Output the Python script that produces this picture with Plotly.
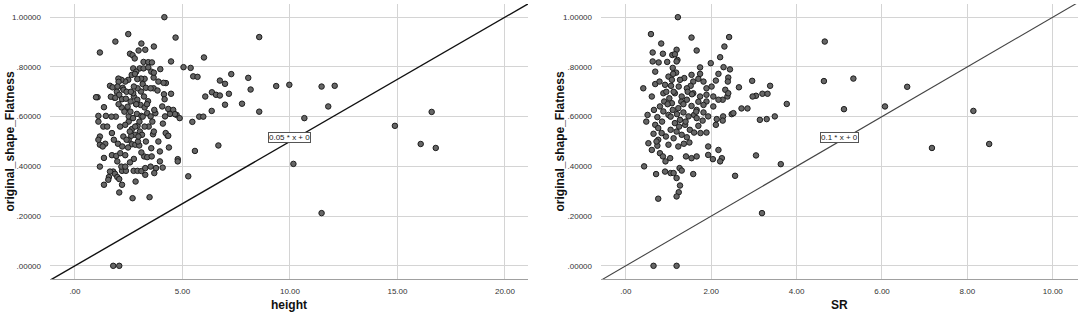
import plotly.graph_objects as go

# ---------------- data ----------------
height_x = [4.16,2.48,1.88,1.16,4.68,8.57,3.09,2.56,2.68,2.78,2.96,3.27,3.67,4.47,6.0,5.05,5.38,5.5,5.7,7.27,
            6.74,6.98,8.06,8.17,9.36,9.97,11.47,12.08,11.78,10.67,8.57,7.77,7.16,6.37,6.56,6.74,6.98,6.06,6.36,5.78,
            5.97,5.46,5.58,6.67,5.27,10.16,11.47,4.78,4.78,1.78,2.06,14.88,16.08,16.59,16.78,
            3.19,3.41,3.58,3.01,3.19,3.41,2.71,2.85,3.55,3.97,2.64,2.79,2.48,2.34,2.16,2.02,1.63,1.75,2.03,1.98,
            1.95,1.84,1.67,1.05,1.35,1.44,1.09,1.09,1.32,1.16,1.16,1.41,1.16,1.35,1.72,1.81,2.0,1.72,1.92,2.11,
            1.97,1.78,1.86,1.97,2.19,2.37,2.19,2.06,2.68,3.47,3.27,3.22,2.74,3.36,3.57,3.88,3.95,4.08,4.31,4.37,
            4.09,4.19,4.34,4.06,4.14,4.23,4.12,3.88,3.66,3.67,3.66,3.84,4.17,4.47,4.57,4.73,4.87,4.65,4.42,4.22,
            4.34,3.95,3.55,3.63,3.67,3.43,3.24,3.02,2.91,2.65,2.50,2.34,2.50,2.33,2.17,2.03,1.88,2.06,2.19,2.37,
            2.59,2.74,2.90,3.05,3.24,3.36,3.52,3.74,3.69,3.40,3.21,3.07,2.91,2.74,3.15,3.30,3.52,3.24,3.07,2.90,
            2.71,2.22,2.26,2.50,2.65,2.81,2.99,2.47,2.34,2.16,2.34,2.56,2.73,2.91,3.09,3.27,3.52,3.77,3.69,2.82,
            3.09,2.93,2.78,3.12,2.70,2.88,3.09,2.25,2.40,1.63,1.58,1.35,1.55,2.06,2.62,1.29,1.09,0.98,
            2.45,2.58,2.85,3.00,3.15,2.40,2.55,2.95,3.35,3.60,1.90,2.10,2.30,2.60,2.80,3.30,1.50,1.70,2.20,2.85]
height_y = [1.0,0.932,0.902,0.858,0.918,0.92,0.894,0.853,0.847,0.834,0.866,0.869,0.882,0.822,0.838,0.799,0.796,0.762,0.76,0.771,
            0.745,0.732,0.756,0.709,0.723,0.728,0.721,0.724,0.641,0.594,0.62,0.652,0.692,0.698,0.688,0.685,0.648,0.681,0.623,0.6,
            0.6,0.579,0.462,0.484,0.36,0.41,0.212,0.429,0.42,0.0,0.0,0.563,0.49,0.619,0.474,
            0.820,0.819,0.818,0.794,0.794,0.798,0.794,0.781,0.781,0.791,0.768,0.772,0.748,0.741,0.748,0.753,0.724,0.718,0.740,0.721,
            0.700,0.676,0.680,0.678,0.638,0.603,0.603,0.580,0.560,0.520,0.487,0.491,0.399,0.434,0.534,0.507,0.491,0.445,0.442,0.453,
            0.420,0.379,0.370,0.357,0.382,0.382,0.326,0.295,0.272,0.276,0.366,0.440,0.430,0.437,0.440,0.500,0.420,0.395,0.523,0.476,
            0.572,0.601,0.631,0.641,0.690,0.735,0.736,0.741,0.757,0.777,0.714,0.705,0.670,0.692,0.627,0.607,0.594,0.610,0.611,0.534,
            0.523,0.460,0.473,0.529,0.540,0.560,0.560,0.540,0.563,0.550,0.580,0.567,0.601,0.627,0.637,0.650,0.676,0.688,0.670,0.672,
            0.661,0.681,0.668,0.647,0.637,0.614,0.601,0.614,0.627,0.662,0.681,0.701,0.714,0.721,0.731,0.716,0.714,0.752,0.753,0.751,
            0.694,0.716,0.708,0.507,0.489,0.487,0.484,0.476,0.445,0.399,0.399,0.416,0.382,0.382,0.381,0.393,0.399,0.393,0.373,0.339,
            0.456,0.500,0.527,0.527,0.594,0.611,0.603,0.520,0.507,0.379,0.357,0.326,0.346,0.349,0.523,0.480,0.507,0.678,
            0.640,0.620,0.650,0.580,0.600,0.700,0.540,0.520,0.650,0.580,0.600,0.560,0.620,0.700,0.560,0.500,0.560,0.600,0.480,0.650]

sr_x = [1.22,0.59,1.54,2.42,0.83,2.31,1.19,1.66,0.63,0.87,1.09,1.15,2.21,1.21,0.63,0.77,0.97,1.19,1.99,1.74,
        2.29,2.44,1.10,0.69,1.18,1.37,2.40,2.11,1.82,1.70,1.58,2.96,2.39,1.74,2.17,0.41,2.65,3.38,3.20,3.32,
        3.05,2.97,0.61,0.69,0.79,0.92,1.06,1.00,1.11,1.24,1.52,1.89,2.01,2.33,2.38,2.27,2.71,2.85,2.48,2.28,
        2.13,1.93,1.82,1.66,1.54,1.43,1.31,1.15,1.02,0.90,0.80,0.66,0.51,0.48,0.53,0.61,0.74,0.80,0.87,0.93,
        1.04,1.00,1.12,1.23,1.36,1.49,1.41,1.54,1.66,1.75,1.89,1.93,1.93,2.04,2.17,2.25,2.21,2.11,2.27,2.52,
        0.69,0.76,0.84,0.94,1.05,1.15,1.27,1.39,1.50,1.60,1.70,1.80,1.60,1.47,1.35,1.23,1.10,1.00,0.88,0.74,
        0.65,0.76,1.19,1.31,1.43,0.43,0.71,0.76,0.92,1.05,1.12,1.26,1.31,1.19,1.27,1.24,1.19,1.58,2.56,3.14,
        3.30,3.05,3.19,3.63,3.77,3.49,0.65,1.19,0.88,1.08,1.58,1.74,1.89,2.05,1.89,1.43,1.27,1.08,1.54,2.40,
        2.17,2.05,1.66,1.82,4.66,4.64,5.33,5.11,6.07,6.59,7.17,8.14,8.51,
        0.95,1.30,1.45,1.05,1.20,1.35,0.85,1.40,1.65,1.25,0.98,1.12,1.70,0.72,1.55]
sr_y = [1.0,0.932,0.918,0.920,0.894,0.882,0.869,0.866,0.858,0.853,0.848,0.851,0.839,0.828,0.822,0.818,0.820,0.822,0.815,0.798,
        0.799,0.790,0.796,0.781,0.777,0.755,0.757,0.745,0.741,0.752,0.741,0.744,0.741,0.772,0.772,0.714,0.718,0.724,0.692,0.692,
        0.684,0.681,0.681,0.731,0.741,0.728,0.724,0.761,0.772,0.721,0.724,0.714,0.721,0.708,0.681,0.668,0.633,0.633,0.610,0.601,
        0.590,0.601,0.617,0.627,0.643,0.668,0.681,0.694,0.674,0.661,0.641,0.627,0.607,0.580,0.493,0.466,0.483,0.453,0.440,0.420,
        0.433,0.487,0.513,0.480,0.491,0.496,0.440,0.433,0.440,0.534,0.536,0.480,0.446,0.429,0.466,0.433,0.420,0.567,0.584,0.614,
        0.567,0.554,0.534,0.520,0.547,0.574,0.587,0.567,0.547,0.536,0.563,0.584,0.607,0.601,0.617,0.634,0.627,0.607,0.621,0.598,
        0.531,0.507,0.540,0.527,0.517,0.400,0.369,0.270,0.379,0.373,0.373,0.393,0.383,0.353,0.323,0.296,0.279,0.369,0.362,0.587,
        0.590,0.444,0.212,0.409,0.651,0.601,0.0,0.0,0.694,0.654,0.694,0.681,0.661,0.641,0.688,0.714,0.748,0.748,0.768,0.694,
        0.668,0.681,0.594,0.647,0.902,0.743,0.753,0.630,0.641,0.720,0.474,0.623,0.490,
        0.700,0.660,0.700,0.600,0.610,0.650,0.580,0.580,0.620,0.560,0.650,0.700,0.660,0.500,0.690]

y_ticks = [0.0, 0.2, 0.4, 0.6, 0.8, 1.0]
y_tick_labels = [".00000", ".20000", ".40000", ".60000", ".80000", "1.00000"]
height_ticks = [0, 5, 10, 15, 20]
height_tick_labels = [".00", "5.00", "10.00", "15.00", "20.00"]
sr_ticks = [0, 2, 4, 6, 8, 10]
sr_tick_labels = [".00", "2.00", "4.00", "6.00", "8.00", "10.00"]
slopes = [0.05, 0.1]
fit_labels = ["0.05 * x + 0", "0.1 * x + 0"]
x_titles = ["height", "SR"]
y_title = "original_shape_Flatness"

# ---------------- layout ----------------
W, H = 1084, 317
xr_left = [-1.16, 21.07]
xr_right = [-0.58, 10.59]
yr = [-0.053, 1.053]
dom_l = [50 / W, 528 / W]
dom_r = [601 / W, 1078 / W]
dom_y = [(H - 279) / H, (H - 4) / H]

fig = go.Figure()

marker = dict(size=5.5, color="#666666", line=dict(color="#1e1e1e", width=1))

fig.add_trace(go.Scatter(x=height_x, y=height_y, mode="markers", marker=marker,
                         xaxis="x", yaxis="y", showlegend=False))
fig.add_trace(go.Scatter(x=sr_x, y=sr_y, mode="markers", marker=marker,
                         xaxis="x2", yaxis="y2", showlegend=False))

for i, (xr, xa, ya, col, w) in enumerate([(xr_left, "x", "y", "#111111", 1.4),
                                          (xr_right, "x2", "y2", "#444444", 1.1)]):
    lx = [xr[0], xr[1]]
    ly = [slopes[i] * v for v in lx]
    fig.add_trace(go.Scatter(x=lx, y=ly, mode="lines", line=dict(color=col, width=w),
                             xaxis=xa, yaxis=ya, showlegend=False, cliponaxis=True))

grid = "#d4d4d4"
tickfont = dict(family="Arial, Liberation Sans", size=8, color="#333333")

common_x = dict(showgrid=True, gridcolor=grid, gridwidth=1, zeroline=False, showline=True,
                linecolor="#a0a0a0", linewidth=1, ticks="", tickfont=tickfont, fixedrange=True)
common_y = dict(showgrid=True, gridcolor=grid, gridwidth=1, zeroline=False, showline=False,
                ticks="", tickfont=tickfont, range=yr, tickvals=y_ticks, ticktext=y_tick_labels,
                ticklabelstandoff=8, fixedrange=True)

fig.update_layout(
    width=W, height=H,
    margin=dict(l=0, r=0, t=0, b=0),
    paper_bgcolor="white", plot_bgcolor="white",
    xaxis=dict(domain=dom_l, range=xr_left, tickvals=height_ticks, ticktext=height_tick_labels,
               anchor="y", ticklabelstandoff=4, **common_x),
    yaxis=dict(domain=dom_y, anchor="x", **common_y),
    xaxis2=dict(domain=dom_r, range=xr_right, tickvals=sr_ticks, ticktext=sr_tick_labels,
                anchor="y2", ticklabelstandoff=4, **common_x),
    yaxis2=dict(domain=dom_y, anchor="x2", **common_y),
)

title_font = dict(family="Arial, Liberation Sans", size=12, color="#111111")
annotations = []
# axis titles
for dom, t in [(dom_l, x_titles[0]), (dom_r, x_titles[1])]:
    annotations.append(dict(text="<b>%s</b>" % t, x=sum(dom) / 2, y=(H - 305) / H,
                            xref="paper", yref="paper", xanchor="center", yanchor="middle",
                            showarrow=False, font=title_font))
for xp in [9 / W, 559 / W]:
    annotations.append(dict(text="<b>%s</b>" % y_title, x=xp, y=sum(dom_y) / 2, textangle=-90,
                            xref="paper", yref="paper", xanchor="center", yanchor="middle",
                            showarrow=False, font=title_font))
# fit labels
lab_font = dict(family="Arial, Liberation Sans", size=8, color="#222222")
annotations.append(dict(text=fit_labels[0], x=10.0, y=0.515, xref="x", yref="y", showarrow=False,
                        font=lab_font, bgcolor="white", bordercolor="#555555", borderwidth=1, borderpad=0))
annotations.append(dict(text=fit_labels[1], x=5.0, y=0.515, xref="x2", yref="y2", showarrow=False,
                        font=lab_font, bgcolor="white", bordercolor="#555555", borderwidth=1, borderpad=0))
fig.update_layout(annotations=annotations)

fig.write_html("out.html", config={"displayModeBar": False},
               post_script="document.body.style.margin='0';document.body.style.overflow='hidden';")
